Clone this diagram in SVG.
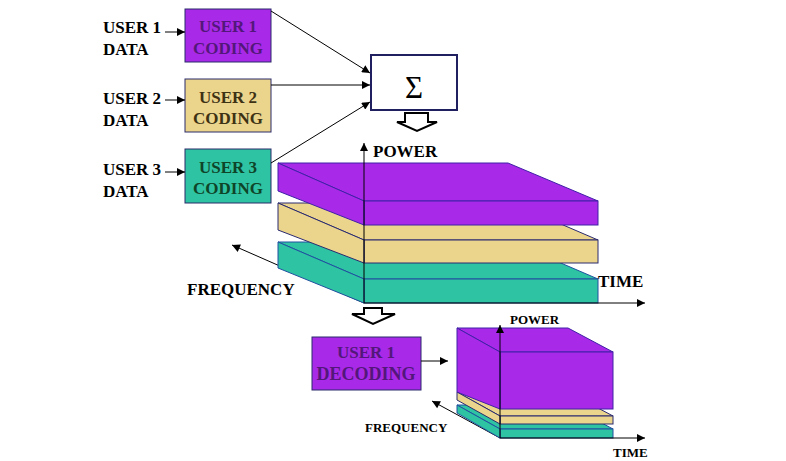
<svg xmlns="http://www.w3.org/2000/svg" width="786" height="461" viewBox="0 0 786 461">
<defs>
<marker id="ah" viewBox="0 0 10 10" refX="10" refY="5" markerWidth="9" markerHeight="8" markerUnits="userSpaceOnUse" orient="auto">
<path d="M0,0 L10,5 L0,10 Z" fill="#000"/>
</marker>
<style>
.t{font-family:"Liberation Serif","Times New Roman",serif;font-weight:bold;fill:#000}
.bt{font-family:"Liberation Serif","Times New Roman",serif;font-weight:bold;text-anchor:middle}
.ln{stroke:#000;stroke-width:1;fill:none}
.pu{fill:#A82AE8;stroke:#4020A8;stroke-width:1}
.ye{fill:#EBD58C;stroke:#2A2A70;stroke-width:1}
.te{fill:#2EC3A2;stroke:#2050A0;stroke-width:1}
.box{stroke:#2A2A6A;stroke-width:1}
.hol{fill:#fff;stroke:#000;stroke-width:2;stroke-linejoin:miter}
</style>
</defs>
<rect width="786" height="461" fill="#fff"/>

<g id="labels">
<text class="t" x="103" y="33" font-size="17">USER 1</text>
<text class="t" x="103" y="55" font-size="17">DATA</text>
<text class="t" x="103" y="104" font-size="17">USER 2</text>
<text class="t" x="103" y="126" font-size="17">DATA</text>
<text class="t" x="103" y="175" font-size="17">USER 3</text>
<text class="t" x="103" y="197" font-size="17">DATA</text>
</g>

<g id="user1-coding">
<rect class="box" x="185" y="9" width="86" height="53" fill="#A82AE8"/>
<text class="bt" x="228" y="32" font-size="17" fill="#53177A">USER 1</text>
<text class="bt" x="228" y="54" font-size="17" fill="#53177A">CODING</text>
</g>
<g id="user2-coding">
<rect class="box" x="185" y="79" width="86" height="53" fill="#EBD58C"/>
<text class="bt" x="228" y="103" font-size="17" fill="#3E3214">USER 2</text>
<text class="bt" x="228" y="124" font-size="17" fill="#3E3214">CODING</text>
</g>
<g id="user3-coding">
<rect class="box" x="185" y="149" width="86" height="54" fill="#2EC3A2"/>
<text class="bt" x="228" y="173" font-size="17" fill="#0E4428">USER 3</text>
<text class="bt" x="228" y="194" font-size="17" fill="#0E4428">CODING</text>
</g>

<g id="sum">
<rect x="371" y="55" width="86" height="55" fill="#fff" stroke="#202060" stroke-width="2"/>
<text x="414" y="98" font-family="Liberation Serif,'Times New Roman',serif" font-size="31" text-anchor="middle" fill="#000">Σ</text>
</g>

<g id="down-arrow-1">
<path class="hol" d="M405,113 H428 V122 H437 L417,131 L397,122 H405 Z"/>
</g>

<g id="signal-space">
<line class="ln" x1="364" y1="303" x2="232" y2="245" marker-end="url(#ah)"/>
<polygon class="te" points="278,242 512,242 598,279 364,279"/>
<rect class="te" x="364" y="279" width="234" height="24"/>
<polygon class="te" points="278,242 364,279 364,303 278,268"/>
<polygon class="ye" points="278,203 512,203 598,240 364,240"/>
<rect class="ye" x="364" y="240" width="234" height="23"/>
<polygon class="ye" points="278,203 364,240 364,263 278,230"/>
<polygon class="pu" points="278,163 508,163 598,201 364,201"/>
<rect class="pu" x="364" y="201" width="234" height="24"/>
<polygon class="pu" points="278,163 364,201 364,225 278,191"/>
<line class="ln" x1="364" y1="303" x2="364" y2="143" marker-end="url(#ah)"/>
<line class="ln" x1="364" y1="303" x2="645" y2="303" marker-end="url(#ah)"/>
<text class="t" x="373" y="157" font-size="17">POWER</text>
<text class="t" x="598" y="287" font-size="17">TIME</text>
<text class="t" x="187" y="295" font-size="17">FREQUENCY</text>
</g>

<g id="down-arrow-2">
<path class="hol" d="M364,308 H382 V314 H395 L373,324 L352,314 H364 Z"/>
</g>

<g id="user1-decoding">
<rect class="box" x="312" y="337" width="109" height="53" fill="#A82AE8"/>
<text class="bt" x="366" y="358" font-size="17" fill="#53177A">USER 1</text>
<text class="bt" x="366" y="380" font-size="18" fill="#53177A">DECODING</text>
</g>

<g id="decoded-space">
<line class="ln" x1="500" y1="438" x2="432" y2="401" marker-end="url(#ah)"/>
<polygon class="te" points="457,405 568,405 613,429 500,429"/>
<rect class="te" x="500" y="429" width="113" height="9"/>
<polygon class="te" points="457,405 500,429 500,438 457,413"/>
<polygon class="ye" points="457,392 568,392 613,416 500,416"/>
<rect class="ye" x="500" y="416" width="113" height="8"/>
<polygon class="ye" points="457,392 500,416 500,424 457,400"/>
<polygon class="pu" points="457,328 568,328 613,352 500,352"/>
<rect class="pu" x="500" y="352" width="113" height="57"/>
<polygon class="pu" points="457,328 500,352 500,409 457,392"/>
<line class="ln" x1="500" y1="438" x2="500" y2="325" marker-end="url(#ah)"/>
<line class="ln" x1="500" y1="438" x2="645" y2="438" marker-end="url(#ah)"/>
<text class="t" x="510" y="324" font-size="13">POWER</text>
<text class="t" x="613" y="457" font-size="13">TIME</text>
<text class="t" x="365" y="432" font-size="13">FREQUENCY</text>
</g>

<g id="connectors">
<line class="ln" x1="165" y1="32" x2="185" y2="32" marker-end="url(#ah)"/>
<line class="ln" x1="165" y1="100" x2="185" y2="100" marker-end="url(#ah)"/>
<line class="ln" x1="165" y1="172" x2="185" y2="172" marker-end="url(#ah)"/>
<line class="ln" x1="271" y1="11" x2="370" y2="73" marker-end="url(#ah)"/>
<line class="ln" x1="271" y1="85" x2="370" y2="85" marker-end="url(#ah)"/>
<line class="ln" x1="271" y1="163" x2="370" y2="102" marker-end="url(#ah)"/>
<line class="ln" x1="421" y1="361" x2="448" y2="361" marker-end="url(#ah)"/>
</g>
</svg>
